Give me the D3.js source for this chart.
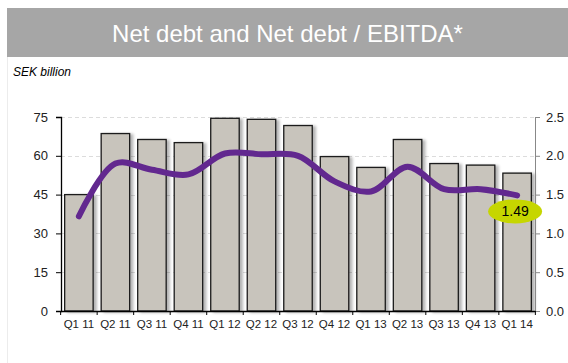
<!DOCTYPE html>
<html>
<head>
<meta charset="utf-8">
<script src="https://cdn.jsdelivr.net/npm/d3@7"></script>
<style>
  body { margin: 0; background: #fff; font-family: "Liberation Sans", Arial, sans-serif; }
  svg { display: block; }
</style>
</head>
<body>
<div id="chart"></div>
<script>

// data
const QUARTERS = ["Q1 11", "Q2 11", "Q3 11", "Q4 11", "Q1 12", "Q2 12", "Q3 12",
                  "Q4 12", "Q1 13", "Q2 13", "Q3 13", "Q4 13", "Q1 14"];
const NET_DEBT = [45.0, 68.6, 66.3, 65.1, 74.5, 74.1, 71.7, 59.7, 55.5, 66.3, 57.0, 56.4, 53.3];
const DEBT_EBITDA = [1.22, 1.90, 1.82, 1.76, 2.03, 2.02, 2.00, 1.67, 1.54, 1.86, 1.57, 1.57, 1.49];
const LEFT_TICKS = [0, 15, 30, 45, 60, 75];
const RIGHT_TICKS = [0, 0.5, 1.0, 1.5, 2.0, 2.5];

const FRAME_WIDTH = 568;
const FRAME_HEIGHT = 363;
const MARGINS = {left: 61, right: 33, top: 117, bottom: 52};

const VIS_WIDTH = FRAME_WIDTH - MARGINS.left - MARGINS.right;
const VIS_HEIGHT = FRAME_HEIGHT - MARGINS.top - MARGINS.bottom;

const FRAME = d3.select("#chart")
                .append("svg")
                  .attr("width", FRAME_WIDTH)
                  .attr("height", FRAME_HEIGHT);

// drop shadow for the bars
const defs = FRAME.append("defs");
const shadow = defs.append("filter").attr("id", "shadow")
    .attr("x", "-20%").attr("y", "-10%").attr("width", "150%").attr("height", "120%");
shadow.append("feGaussianBlur").attr("in", "SourceAlpha").attr("stdDeviation", 1.6);
shadow.append("feOffset").attr("dx", 3).attr("dy", 1).attr("result", "off");
shadow.append("feComponentTransfer").append("feFuncA").attr("type", "linear").attr("slope", 0.3);
const merge = shadow.append("feMerge");
merge.append("feMergeNode");
merge.append("feMergeNode").attr("in", "SourceGraphic");

// title banner
FRAME.append("rect")
    .attr("x", 7).attr("y", 8)
    .attr("width", FRAME_WIDTH - 7).attr("height", 49)
    .attr("fill", "#a6a6a6");

FRAME.append("text")
    .attr("x", 7 + (FRAME_WIDTH - 7) / 2).attr("y", 42)
    .attr("text-anchor", "middle")
    .attr("font-size", "24px")
    .attr("fill", "#fff")
    .text("Net debt and Net debt / EBITDA*");

// faint left border
FRAME.append("line")
    .attr("x1", 7.5).attr("x2", 7.5)
    .attr("y1", 57).attr("y2", FRAME_HEIGHT)
    .attr("stroke", "#ececec");

FRAME.append("text")
    .attr("x", 13).attr("y", 76)
    .attr("font-size", "12px")
    .attr("font-style", "italic")
    .attr("fill", "#000")
    .text("SEK billion");

// scales
const X_SCALE = d3.scaleBand()
    .domain(QUARTERS)
    .range([0, VIS_WIDTH])
    .paddingInner(0.22)
    .paddingOuter(0.1);

const Y_LEFT = d3.scaleLinear()
    .domain([0, 75])
    .range([VIS_HEIGHT, 0]);

const Y_RIGHT = d3.scaleLinear()
    .domain([0, 2.5])
    .range([VIS_HEIGHT, 0]);

const G = FRAME.append("g")
    .attr("transform", "translate(" + MARGINS.left + "," + MARGINS.top + ")");

// dashed gridlines
G.selectAll(".grid")
    .data(LEFT_TICKS.filter(d => d > 0))
    .enter()
    .append("line")
      .attr("x1", 0).attr("x2", VIS_WIDTH)
      .attr("y1", d => Math.round(Y_LEFT(d)) + 0.5)
      .attr("y2", d => Math.round(Y_LEFT(d)) + 0.5)
      .attr("stroke", "#dcdcdc")
      .attr("stroke-dasharray", "4,3");

// bars
G.selectAll(".bar")
    .data(NET_DEBT)
    .enter()
    .append("rect")
      .attr("x", (d, i) => X_SCALE(QUARTERS[i]))
      .attr("y", d => Y_LEFT(d))
      .attr("width", X_SCALE.bandwidth())
      .attr("height", d => VIS_HEIGHT - Y_LEFT(d))
      .attr("fill", "#c8c4bc")
      .attr("stroke", "#1a1a1a")
      .attr("stroke-width", 1.3)
      .attr("filter", "url(#shadow)");

// left axis
const leftAxis = G.append("g")
    .call(d3.axisLeft(Y_LEFT).tickValues(LEFT_TICKS).tickSize(5).tickPadding(8));
leftAxis.select(".domain").attr("stroke", "#000").attr("stroke-width", 1.3);
leftAxis.selectAll("text").attr("font-size", "13px").attr("font-family", "Liberation Sans, Arial, sans-serif").attr("fill", "#222");

// right axis
const rightAxis = G.append("g")
    .attr("transform", "translate(" + VIS_WIDTH + ",0)")
    .call(d3.axisRight(Y_RIGHT).tickValues(RIGHT_TICKS).tickFormat(d3.format(".1f")).tickSize(5).tickPadding(6));
rightAxis.select(".domain").attr("stroke", "#888");
rightAxis.selectAll(".tick line").attr("stroke", "#888");
rightAxis.selectAll("text").attr("font-size", "13px").attr("font-family", "Liberation Sans, Arial, sans-serif").attr("fill", "#222");

// bottom axis, ticks between categories
const bottomAxis = G.append("g")
    .attr("transform", "translate(0," + VIS_HEIGHT + ")")
    .call(d3.axisBottom(X_SCALE).tickSize(0).tickPadding(9));
bottomAxis.select(".domain").attr("stroke", "#000").attr("stroke-width", 1.5);
bottomAxis.selectAll("text").attr("font-size", "11.5px").attr("font-family", "Liberation Sans, Arial, sans-serif").attr("fill", "#222");

const STEP = X_SCALE.step();
bottomAxis.selectAll(".sep")
    .data(d3.range(QUARTERS.length + 1))
    .enter()
    .append("line")
      .attr("x1", d => X_SCALE(QUARTERS[0]) - STEP * X_SCALE.paddingInner() / 2 + d * STEP)
      .attr("x2", d => X_SCALE(QUARTERS[0]) - STEP * X_SCALE.paddingInner() / 2 + d * STEP)
      .attr("y1", 0).attr("y2", 4)
      .attr("stroke", "#000");

// net debt / EBITDA line
const LINE = d3.line()
    .x((d, i) => X_SCALE(QUARTERS[i]) + X_SCALE.bandwidth() / 2)
    .y(d => Y_RIGHT(d))
    .curve(d3.curveCatmullRom.alpha(0.5));

G.append("path")
    .datum(DEBT_EBITDA)
    .attr("d", LINE)
    .attr("fill", "none")
    .attr("stroke", "#62288f")
    .attr("stroke-width", 6)
    .attr("stroke-linecap", "round");

// highlight of the last value
const LAST = DEBT_EBITDA.length - 1;
const lastX = X_SCALE(QUARTERS[LAST]) + X_SCALE.bandwidth() / 2 - 2;
const lastY = Y_RIGHT(DEBT_EBITDA[LAST]) + 16;

G.append("ellipse")
    .attr("cx", lastX).attr("cy", lastY)
    .attr("rx", 27).attr("ry", 12)
    .attr("fill", "#c6d600");

G.append("text")
    .attr("x", lastX).attr("y", lastY + 5)
    .attr("text-anchor", "middle")
    .attr("font-size", "14px")
    .attr("fill", "#000")
    .text(d3.format(".2f")(DEBT_EBITDA[LAST]));

</script>
</body>
</html>
